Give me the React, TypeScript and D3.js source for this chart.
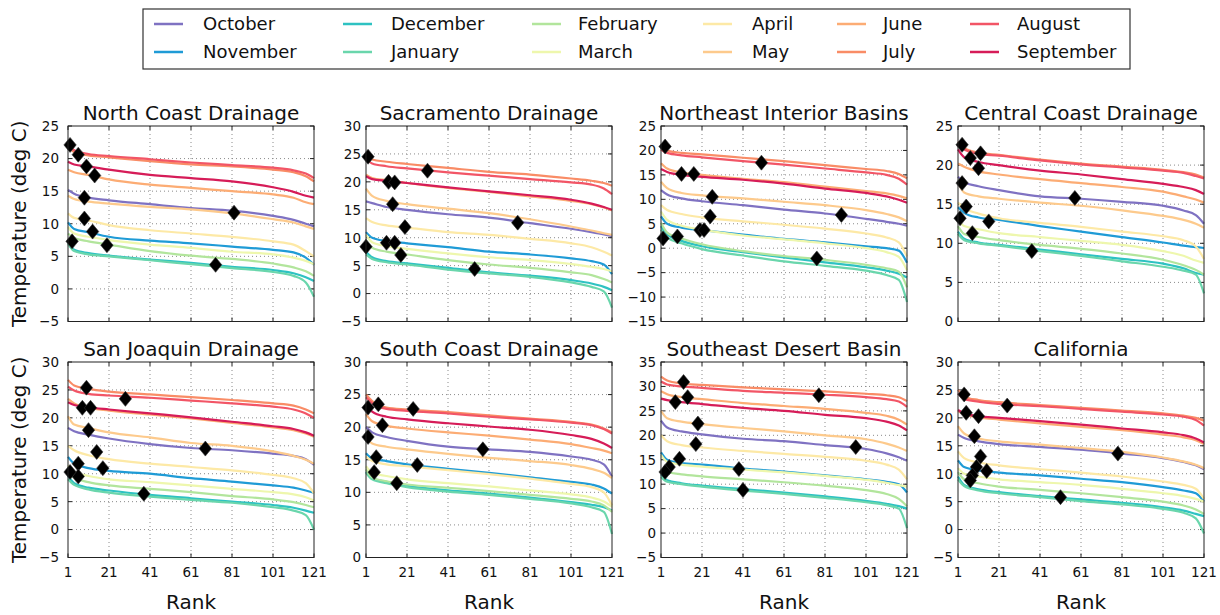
import React from "react";
import * as d3 from "d3";

const MONTHS = ["October", "November", "December", "January", "February", "March", "April", "May", "June", "July", "August", "September"];
const COLORS = ["#7f72c2", "#1f9bd6", "#2ec2c2", "#6ad6ac", "#b2e59c", "#eef7ad", "#fde9a6", "#fdca8c", "#fcac74", "#f98c66", "#f25566", "#d61c58"];
const RANKS = [1, 4, 11, 21, 41, 61, 81, 101, 111, 117, 121];
const X_TICKS = [1, 21, 41, 61, 81, 101, 121];
const TITLES = ["North Coast Drainage", "Sacramento Drainage", "Northeast Interior Basins", "Central Coast Drainage", "San Joaquin Drainage", "South Coast Drainage", "Southeast Desert Basin", "California"];
const Y_DOMAINS = [[-5, 25], [-5, 30], [-15, 25], [0, 25], [-5, 30], [0, 30], [-5, 35], [-5, 30]];

// month order: Oct, Nov, Dec, Jan, Feb, Mar, Apr, May, Jun, Jul, Aug, Sep
const NC_LINES = [
  [15.2, 14.6, 14.0, 13.6, 13.0, 12.4, 12.0, 11.2, 10.6, 10.0, 9.6],
  [10.2, 9.2, 8.7, 8.0, 7.4, 7.0, 6.5, 6.0, 5.6, 4.8, 3.7],
  [7.3, 6.0, 5.5, 5.1, 4.5, 4.0, 3.4, 2.9, 2.4, 1.8, 1.2],
  [6.9, 5.8, 5.3, 5.0, 4.4, 3.8, 3.2, 2.6, 2.0, 1.0, -1.2],
  [8.5, 7.8, 7.3, 6.8, 5.8, 5.1, 4.6, 3.9, 3.3, 2.7, 2.0],
  [9.5, 8.5, 8.0, 7.5, 6.8, 6.3, 5.7, 5.3, 4.8, 4.3, 3.8],
  [11.6, 10.9, 10.5, 9.8, 9.0, 8.5, 8.0, 7.3, 6.8, 5.8, 5.0],
  [14.3, 13.8, 13.4, 13.1, 12.6, 12.2, 11.6, 10.7, 10.2, 9.6, 9.2],
  [18.3, 17.9, 17.5, 16.8, 16.0, 15.5, 15.0, 14.5, 14.0, 13.3, 13.0],
  [21.8, 21.0, 20.5, 20.2, 19.6, 19.1, 18.8, 18.3, 17.9, 17.3, 16.5],
  [22.3, 21.3, 20.7, 20.4, 19.9, 19.4, 19.0, 18.6, 18.2, 17.7, 17.0],
  [19.5, 19.1, 18.8, 18.3, 17.5, 17.0, 16.5, 15.6, 14.9, 14.3, 14.0],
];
const SAC_LINES = [
  [16.5, 16.2, 15.5, 15.0, 14.2, 13.6, 12.6, 11.6, 11.0, 10.6, 10.3],
  [11.0, 10.0, 9.4, 9.0, 8.3, 7.5, 7.0, 6.3, 5.8, 5.2, 3.5],
  [7.5, 6.5, 5.8, 5.4, 4.6, 3.8, 3.2, 2.4, 1.8, 1.2, 0.6],
  [7.0, 6.2, 5.6, 5.2, 4.3, 3.6, 3.0, 2.0, 1.2, 0.4, -2.5],
  [9.5, 8.2, 7.5, 7.0, 6.0, 5.2, 4.6, 3.8, 3.3, 2.6, 2.0],
  [10.5, 9.2, 8.5, 8.0, 7.2, 6.5, 6.0, 5.3, 4.8, 4.4, 4.0],
  [13.5, 12.8, 12.2, 11.8, 11.0, 10.5, 9.8, 9.0, 8.3, 7.5, 6.8],
  [18.8, 17.5, 16.6, 16.0, 15.2, 14.4, 13.3, 12.0, 11.3, 10.8, 10.5],
  [21.3, 20.7, 20.3, 19.8, 18.9, 18.2, 17.4, 16.6, 16.0, 15.4, 14.9],
  [24.8, 24.0, 23.6, 23.2, 22.5, 21.8, 21.3, 20.6, 20.2, 19.8, 19.3],
  [24.2, 23.3, 22.8, 22.4, 21.7, 21.1, 20.5, 19.9, 19.5, 18.8, 17.8],
  [21.0, 20.5, 20.2, 19.8, 19.0, 18.3, 17.6, 16.8, 16.1, 15.5, 15.0],
];
const NE_LINES = [
  [11.9, 11.0, 10.2, 9.6, 8.8, 7.9, 7.1, 6.0, 5.4, 5.0, 4.6],
  [6.5, 5.0, 4.2, 3.7, 2.8, 1.9, 1.2, 0.4, 0.0, -0.5, -3.0],
  [4.5, 2.8, 1.5, 0.4, -0.8, -1.9, -2.9, -3.9, -4.6, -5.2, -6.0],
  [3.8, 2.2, 1.0, -0.2, -1.5, -2.7, -3.6, -4.6, -5.5, -6.5, -11.0],
  [5.2, 3.2, 2.0, 0.8, -0.6, -1.6, -2.4, -3.4, -4.1, -4.8, -8.0],
  [7.5, 5.8, 4.6, 3.8, 2.6, 1.8, 1.0, 0.0, -0.8, -1.8, -4.5],
  [8.8, 7.8, 7.0, 6.3, 5.5, 4.8, 4.0, 3.0, 2.2, 1.2, -1.7],
  [13.6, 12.3, 11.3, 10.8, 10.2, 9.5, 8.8, 7.8, 7.0, 6.3, 5.5],
  [17.4, 16.3, 15.5, 15.0, 14.2, 13.5, 12.6, 11.7, 11.2, 10.7, 10.2],
  [20.8, 20.0, 19.5, 19.2, 18.5, 17.8, 17.0, 16.2, 15.8, 15.2, 14.3],
  [20.2, 19.5, 19.0, 18.6, 17.8, 17.1, 16.3, 15.5, 15.0, 14.2, 13.0],
  [16.2, 15.6, 15.0, 14.6, 14.0, 13.2, 12.2, 11.3, 10.6, 9.9, 9.3],
];
const CC_LINES = [
  [18.5, 17.8, 17.3, 16.8, 16.0, 15.7, 15.3, 14.8, 14.2, 13.6, 12.5],
  [14.6, 13.9, 13.3, 13.0, 12.2, 11.5, 10.8, 10.1, 9.7, 9.5, 9.4],
  [11.5, 10.6, 10.1, 9.8, 9.2, 8.6, 8.0, 7.4, 6.8, 6.2, 6.0],
  [11.2, 10.4, 10.0, 9.7, 9.0, 8.4, 7.7, 7.0, 6.5, 6.0, 3.6],
  [12.2, 11.2, 10.8, 10.4, 9.8, 9.3, 8.7, 7.9, 7.2, 6.6, 6.0],
  [13.0, 12.2, 11.8, 11.3, 10.8, 10.3, 9.8, 9.0, 8.4, 7.8, 7.5],
  [15.2, 14.5, 13.8, 13.2, 12.6, 12.1, 11.5, 10.9, 10.4, 9.6, 8.0],
  [17.8, 16.5, 16.0, 15.7, 15.2, 14.8, 14.2, 13.5, 13.0, 12.5, 12.0],
  [20.2, 19.8, 19.2, 18.8, 18.2, 17.7, 17.2, 16.6, 16.0, 15.6, 15.2],
  [23.0, 22.2, 21.6, 21.3, 20.7, 20.2, 19.8, 19.4, 19.1, 18.8, 18.4],
  [22.5, 22.0, 21.4, 21.2, 20.6, 20.1, 19.7, 19.3, 19.0, 18.6, 18.3],
  [22.0, 21.0, 20.4, 20.0, 19.3, 18.8, 18.2, 17.6, 17.2, 16.8, 16.3],
];
const SJ_LINES = [
  [18.2, 17.6, 17.0, 16.3, 15.3, 14.6, 14.2, 13.6, 13.2, 12.6, 11.6],
  [13.0, 11.8, 11.0, 10.5, 10.0, 9.2, 8.6, 7.9, 7.5, 7.0, 6.6],
  [9.6, 8.3, 7.5, 7.0, 6.2, 5.6, 5.0, 4.4, 3.9, 3.4, 3.0],
  [9.0, 8.0, 7.2, 6.6, 5.9, 5.3, 4.8, 4.0, 3.4, 2.6, 0.0],
  [10.6, 9.3, 8.5, 7.9, 7.3, 6.7, 6.0, 5.4, 4.9, 4.4, 4.0],
  [11.5, 10.3, 9.6, 9.0, 8.5, 7.9, 7.3, 6.7, 6.3, 5.8, 5.2],
  [15.0, 14.2, 13.3, 12.6, 11.8, 11.2, 10.6, 9.8, 9.2, 8.3, 6.5],
  [20.3, 18.8, 18.2, 17.4, 16.5, 15.5, 15.0, 14.0, 13.2, 12.5, 11.8],
  [23.4, 22.6, 21.8, 21.3, 20.6, 19.9, 19.1, 18.3, 17.8, 17.2, 16.6],
  [26.8, 25.8, 25.2, 24.7, 24.2, 23.7, 23.2, 22.6, 22.2, 21.5, 20.8],
  [25.6, 24.9, 24.3, 24.0, 23.6, 23.1, 22.6, 22.0, 21.5, 20.8, 20.0],
  [22.8, 22.3, 21.9, 21.5, 20.8, 20.1, 19.3, 18.5, 18.0, 17.4, 16.8],
];
const SC_LINES = [
  [20.0, 19.2, 18.5, 17.9, 17.0, 16.6, 16.2, 15.5, 15.0, 14.3, 12.4],
  [16.0, 15.2, 14.8, 14.3, 13.6, 13.0, 12.3, 11.6, 11.2, 10.6, 9.8],
  [13.2, 12.2, 11.6, 11.0, 10.3, 9.8, 9.2, 8.5, 8.1, 7.7, 7.2],
  [13.0, 12.0, 11.4, 10.8, 10.1, 9.6, 9.0, 8.3, 7.7, 7.0, 3.6],
  [13.5, 12.3, 11.7, 11.2, 10.7, 10.2, 9.6, 9.0, 8.6, 8.0, 7.0],
  [14.0, 13.0, 12.5, 12.0, 11.4, 10.9, 10.3, 9.7, 9.2, 8.6, 7.8],
  [15.5, 14.8, 14.3, 14.0, 13.4, 12.8, 12.1, 11.3, 10.8, 10.0, 8.0],
  [18.5, 17.5, 17.0, 16.6, 15.9, 15.3, 14.8, 14.2, 13.6, 13.0, 12.2],
  [22.0, 20.9, 20.2, 19.8, 19.2, 18.7, 18.1, 17.4, 16.8, 16.4, 16.0],
  [25.0, 24.0, 23.0, 22.7, 22.3, 21.8, 21.3, 20.8, 20.4, 19.8, 19.2],
  [24.6, 23.7, 22.8, 22.5, 22.1, 21.6, 21.2, 20.7, 20.3, 19.7, 19.0],
  [23.5, 22.4, 21.6, 21.2, 20.6, 20.1, 19.6, 18.8, 18.2, 17.5, 16.8],
];
const SE_LINES = [
  [23.0, 21.6, 20.8, 20.2, 19.3, 18.8, 18.0, 17.2, 16.3, 15.5, 14.8],
  [16.5, 15.0, 14.3, 14.0, 13.2, 12.6, 11.8, 11.0, 10.5, 10.0, 8.3],
  [12.0, 10.8, 10.2, 9.7, 9.0, 8.3, 7.5, 6.6, 6.0, 5.5, 5.0],
  [11.5, 10.5, 10.0, 9.5, 8.7, 8.0, 7.2, 6.3, 5.7, 5.0, 1.0],
  [13.0, 12.5, 12.0, 11.6, 11.0, 10.4, 9.7, 8.8, 8.0, 7.0, 5.5],
  [16.0, 14.6, 14.0, 13.6, 13.0, 12.4, 11.7, 10.9, 10.3, 9.8, 9.5],
  [20.0, 18.8, 18.0, 17.5, 16.8, 16.2, 15.6, 14.8, 14.0, 13.0, 11.0],
  [25.0, 23.5, 22.8, 22.3, 21.5, 20.8, 20.0, 19.2, 18.3, 17.5, 16.8],
  [29.0, 28.4, 27.8, 27.4, 26.6, 26.0, 25.4, 24.6, 24.0, 23.2, 22.2],
  [32.0, 31.2, 30.6, 30.3, 29.8, 29.4, 29.0, 28.5, 28.2, 27.8, 27.0],
  [31.0, 30.4, 30.0, 29.7, 29.1, 28.7, 28.3, 27.8, 27.4, 26.9, 25.8],
  [27.5, 27.2, 26.8, 26.4, 25.6, 25.0, 24.2, 23.5, 22.8, 22.0, 21.0],
];
const CA_LINES = [
  [17.0, 16.4, 15.8, 15.3, 14.8, 14.3, 13.6, 12.8, 12.1, 11.5, 10.8],
  [12.4, 11.2, 10.6, 10.2, 9.7, 9.1, 8.5, 7.6, 7.0, 6.5, 5.0],
  [9.5, 8.0, 7.2, 6.7, 6.0, 5.4, 4.8, 4.0, 3.4, 2.8, 2.4],
  [9.0, 7.8, 7.0, 6.5, 5.8, 5.1, 4.5, 3.7, 3.0, 2.0, -0.7],
  [10.3, 9.0, 8.3, 7.7, 7.1, 6.5, 5.8, 5.0, 4.3, 3.6, 2.8],
  [11.0, 10.0, 9.5, 9.0, 8.5, 8.0, 7.3, 6.5, 6.0, 5.5, 5.0],
  [14.0, 12.8, 12.0, 11.5, 10.8, 10.2, 9.5, 8.6, 8.0, 7.3, 5.5],
  [18.5, 17.2, 16.3, 15.8, 15.2, 14.6, 13.9, 12.9, 12.2, 11.6, 11.0],
  [21.2, 20.6, 20.1, 19.7, 19.0, 18.4, 17.8, 17.0, 16.5, 16.0, 15.3],
  [25.0, 23.8, 23.2, 22.8, 22.3, 21.8, 21.3, 20.8, 20.4, 20.0, 19.5],
  [24.4, 23.4, 22.9, 22.5, 22.1, 21.6, 21.1, 20.6, 20.2, 19.6, 18.6],
  [21.4, 20.8, 20.3, 20.0, 19.4, 18.8, 18.1, 17.4, 16.9, 16.3, 15.6],
];

const NC_MARK_RANK = [2, 6, 10, 14, 9, 9, 13, 20, 3, 82, 73];
const NC_MARK_TEMP = [22.1, 20.6, 18.8, 17.4, 14.0, 10.8, 8.8, 6.7, 7.3, 11.7, 3.7];
const SAC_MARK_RANK = [2, 12, 15, 14, 20, 11, 15, 18, 1, 31, 75, 54];
const SAC_MARK_TEMP = [24.5, 20.0, 19.9, 16.0, 11.9, 9.1, 9.1, 6.9, 8.4, 22.0, 12.7, 4.4];
const NE_MARK_RANK = [3, 11, 17, 26, 25, 20, 22, 9, 2, 50, 89, 77];
const NE_MARK_TEMP = [20.8, 15.2, 15.2, 10.5, 6.5, 3.7, 3.7, 2.4, 2.0, 17.5, 6.8, -2.1];
const CC_MARK_RANK = [3, 7, 12, 11, 3, 5, 2, 16, 8, 58, 37];
const CC_MARK_TEMP = [22.6, 20.9, 21.5, 19.6, 17.7, 14.7, 13.2, 12.8, 11.3, 15.8, 9.0];
const SJ_MARK_RANK = [10, 8, 12, 11, 15, 18, 6, 6, 2, 29, 68, 38];
const SJ_MARK_TEMP = [25.4, 21.8, 21.8, 17.8, 13.9, 11.0, 11.8, 9.5, 10.3, 23.4, 14.5, 6.4];
const SC_MARK_RANK = [2, 7, 24, 9, 2, 6, 5, 26, 16, 58];
const SC_MARK_TEMP = [23.0, 23.5, 22.8, 20.3, 18.5, 15.4, 13.1, 14.2, 11.4, 16.6];
const SE_MARK_RANK = [12, 14, 8, 19, 18, 10, 5, 3, 39, 41, 78, 96];
const SE_MARK_TEMP = [30.9, 27.8, 26.8, 22.4, 18.2, 15.2, 13.5, 12.5, 13.1, 8.8, 28.2, 17.6];
const CA_MARK_RANK = [4, 5, 11, 9, 12, 10, 15, 8, 7, 25, 79, 51];
const CA_MARK_TEMP = [24.2, 20.9, 20.3, 16.7, 13.1, 11.2, 10.5, 9.7, 8.8, 22.2, 13.6, 5.8];

const PANEL_LINES = [NC_LINES, SAC_LINES, NE_LINES, CC_LINES, SJ_LINES, SC_LINES, SE_LINES, CA_LINES];
const PANEL_MARK_RANK = [NC_MARK_RANK, SAC_MARK_RANK, NE_MARK_RANK, CC_MARK_RANK, SJ_MARK_RANK, SC_MARK_RANK, SE_MARK_RANK, CA_MARK_RANK];
const PANEL_MARK_TEMP = [NC_MARK_TEMP, SAC_MARK_TEMP, NE_MARK_TEMP, CC_MARK_TEMP, SJ_MARK_TEMP, SC_MARK_TEMP, SE_MARK_TEMP, CA_MARK_TEMP];

const FONT = "DejaVu Sans, sans-serif";
const LEFTS = [68, 366, 661, 958];
const TOPS = [126, 362];
const PW = 246;
const PH = 195.5;
const YPAD = [9, 5, 5, 5];

const fmt = (v: number) => (v < 0 ? "\u2212" + Math.abs(v) : String(v));

function Panel({ idx }: { idx: number }) {
  const col = idx % 4;
  const row = Math.floor(idx / 4);
  const left = LEFTS[col];
  const top = TOPS[row];
  const x = d3.scaleLinear().domain([1, 121]).range([left, left + PW]);
  const [y0, y1] = Y_DOMAINS[idx];
  const y = d3.scaleLinear().domain([y0, y1]).range([top + PH, top]);
  const yTicks = d3.range(y0, y1 + 0.001, 5);
  const line = d3
    .line<number>()
    .x((_, i) => x(RANKS[i]))
    .y((v) => y(v))
    .curve(d3.curveMonotoneX);
  const lines = PANEL_LINES[idx];
  const mr = PANEL_MARK_RANK[idx];
  const mt = PANEL_MARK_TEMP[idx];
  return (
    <g>
      <text x={left + PW / 2} y={top - 6} textAnchor="middle" fontSize={20} fontFamily={FONT} fill="#111">
        {TITLES[idx]}
      </text>
      {yTicks.map((t) => (
        <g key={"y" + t}>
          {t > y0 && t < y1 && (
            <line x1={left} x2={left + PW} y1={y(t)} y2={y(t)} stroke="#8a8a8a" strokeWidth={1} strokeDasharray="1,3" />
          )}
          <line x1={left} x2={left + 4} y1={y(t)} y2={y(t)} stroke="#222" />
          <line x1={left + PW - 4} x2={left + PW} y1={y(t)} y2={y(t)} stroke="#222" />
          <text x={left - YPAD[col]} y={y(t)} dy="0.36em" textAnchor="end" fontSize={13.5} fontFamily={FONT} fill="#111">
            {fmt(t)}
          </text>
        </g>
      ))}
      {X_TICKS.map((t) => (
        <g key={"x" + t}>
          {t > 1 && t < 121 && (
            <line x1={x(t)} x2={x(t)} y1={top} y2={top + PH} stroke="#8a8a8a" strokeWidth={1} strokeDasharray="1,3" />
          )}
          <line x1={x(t)} x2={x(t)} y1={top} y2={top + 4} stroke="#222" />
          <line x1={x(t)} x2={x(t)} y1={top + PH - 4} y2={top + PH} stroke="#222" />
          {row === 1 && (
            <text x={x(t)} y={577} textAnchor="middle" fontSize={13.5} fontFamily={FONT} fill="#111">
              {t}
            </text>
          )}
        </g>
      ))}
      {lines.map((vals, m) => (
        <path key={MONTHS[m]} d={line(vals) || ""} fill="none" stroke={COLORS[m]} strokeWidth={2.2} strokeLinejoin="round" />
      ))}
      {mr.map((r, i) => {
        const cx = x(r);
        const cy = y(mt[i]);
        return (
          <path
            key={"m" + i}
            d={`M${cx},${cy - 7.5}L${cx + 6.2},${cy}L${cx},${cy + 7.5}L${cx - 6.2},${cy}Z`}
            fill="#000"
            stroke="#333"
            strokeWidth={0.6}
          />
        );
      })}
      <rect x={left} y={top} width={PW} height={PH} fill="none" stroke="#222" strokeWidth={1} />
      {row === 1 && (
        <text x={left + PW / 2} y={609} textAnchor="middle" fontSize={20} fontFamily={FONT} fill="#111">
          Rank
        </text>
      )}
      {col === 0 && (
        <text
          transform={`translate(18.5,${top + PH / 2}) rotate(-90)`}
          textAnchor="middle"
          dominantBaseline="central"
          fontSize={20}
          fontFamily={FONT}
          fill="#111"
        >
          Temperature (deg C)
        </text>
      )}
    </g>
  );
}

const LEG_HANDLE_X = [154, 343, 532, 703, 837, 970];
const LEG_TEXT_X = [203, 391, 578, 752, 883, 1017];
const LEG_ROW_Y = [24, 52];

function Legend() {
  return (
    <g>
      <rect x={143} y={9} width={987} height={60} fill="#fff" stroke="#333" strokeWidth={1.2} />
      {MONTHS.map((m, i) => {
        const c = Math.floor(i / 2);
        const r = i % 2;
        const yy = LEG_ROW_Y[r];
        return (
          <g key={m}>
            <line x1={LEG_HANDLE_X[c]} x2={LEG_HANDLE_X[c] + 29} y1={yy} y2={yy} stroke={COLORS[i]} strokeWidth={2.5} />
            <text x={LEG_TEXT_X[c]} y={yy} dy="0.36em" fontSize={18} fontFamily={FONT} fill="#111">
              {m}
            </text>
          </g>
        );
      })}
    </g>
  );
}

export default function App() {
  return (
    <svg width={1220} height={615} style={{ position: "absolute", left: 0, top: 0, background: "#fff" }}>
      <rect width={1220} height={615} fill="#fff" />
      <Legend />
      {d3.range(8).map((i) => (
        <Panel key={i} idx={i} />
      ))}
    </svg>
  );
}
